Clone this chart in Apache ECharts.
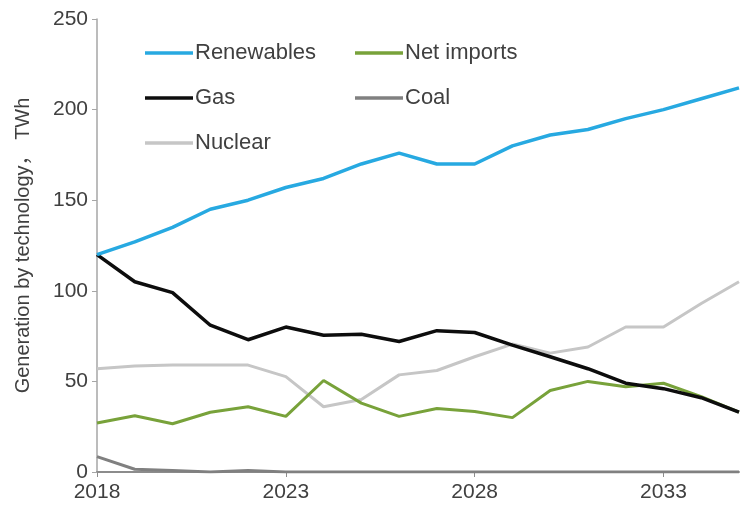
<!DOCTYPE html>
<html>
<head>
<meta charset="utf-8">
<script src="https://cdn.jsdelivr.net/npm/echarts@6/dist/echarts.min.js"></script>
<style>
  html, body { margin: 0; padding: 0; background: #fff; }
  #chart { width: 740px; height: 514px; }
</style>
</head>
<body>
<div id="chart"></div>
<script>
const years = ["2018", "2019", "2020", "2021", "2022", "2023", "2024", "2025", "2026",
  "2027", "2028", "2029", "2030", "2031", "2032", "2033", "2034", "2035"];

const renewables = [120, 127, 135, 145, 150, 157, 162, 170, 176, 170, 170, 180, 186, 189, 195, 200, 206, 212];
const netImports = [27, 31, 26.6, 33, 36, 30.7, 50.5, 38, 30.7, 35, 33.4, 30, 45, 50, 47, 49, 41.6, 33];
const gas = [120, 105, 99, 81, 73, 80, 75.5, 76, 72, 78, 77, 70, 63.6, 57, 49, 46, 41, 33];
const coal = [8.5, 1.5, 0.8, 0, 0.8, 0, 0, 0, 0, 0, 0, 0, 0, 0, 0, 0, 0, 0];
const nuclear = [57, 58.5, 59, 59, 59, 52.6, 36, 40, 53.6, 56, 63.6, 70.6, 65.6, 69, 80, 80, 93, 105];

const yTicks = [0, 50, 100, 150, 200, 250];

const FONT = "'Liberation Sans', Arial, 'Noto Sans CJK SC', sans-serif";
const TEXT_COLOR = "#404040";

const chart = echarts.init(document.getElementById("chart"));

function lineSeries(name, data, color, width, z) {
  return {
    name,
    type: "line",
    data,
    symbol: "none",
    z,
    lineStyle: { color, width },
    itemStyle: { color },
  };
}

// one legend per entry so each sits where the reference puts it
function legendAt(name, left, top) {
  return {
    data: [name],
    left,
    top,
    icon: "rect",
    itemWidth: 48,
    itemHeight: 3.5,
    itemGap: 0,
    padding: 0,
    textStyle: { fontFamily: FONT, fontSize: 22, color: TEXT_COLOR, padding: [0, 0, 0, -3] },
  };
}

chart.setOption({
  animation: false,
  backgroundColor: "#fff",
  legend: [
    legendAt("Renewables", 145, 42),
    legendAt("Net imports", 355, 42),
    legendAt("Gas", 145, 87),
    legendAt("Coal", 355, 87),
    legendAt("Nuclear", 145, 132),
  ],
  grid: { left: 97, right: 1, top: 19, bottom: 42 },
  xAxis: {
    type: "category",
    data: years,
    boundaryGap: false,
    axisLine: { lineStyle: { color: "#8c8c8c", width: 2 } },
    axisTick: { interval: 4, length: 5, inside: false, lineStyle: { color: "#8c8c8c" } },
    axisLabel: { interval: 4, fontFamily: FONT, fontSize: 21, color: TEXT_COLOR, margin: 10 },
    splitLine: { show: false },
  },
  yAxis: {
    type: "value",
    min: yTicks[0],
    max: yTicks[yTicks.length - 1],
    interval: 50,
    name: "Generation by technology， TWh",
    nameLocation: "middle",
    nameGap: 64,
    nameTextStyle: { fontFamily: FONT, fontSize: 20, color: TEXT_COLOR },
    axisLine: { show: true, lineStyle: { color: "#a6a6a6", width: 1.5 } },
    axisTick: { show: true, length: 5, lineStyle: { color: "#a6a6a6" } },
    axisLabel: { fontFamily: FONT, fontSize: 21, color: TEXT_COLOR, margin: 9 },
    splitLine: { show: false },
  },
  series: [
    lineSeries("Renewables", renewables, "#27a9e1", 3.5, 5),
    lineSeries("Net imports", netImports, "#78a23a", 3, 3),
    lineSeries("Gas", gas, "#0d0d0d", 3.5, 4),
    lineSeries("Coal", coal, "#808080", 3, 2),
    lineSeries("Nuclear", nuclear, "#c6c6c6", 3, 1),
  ],
});
</script>
</body>
</html>
